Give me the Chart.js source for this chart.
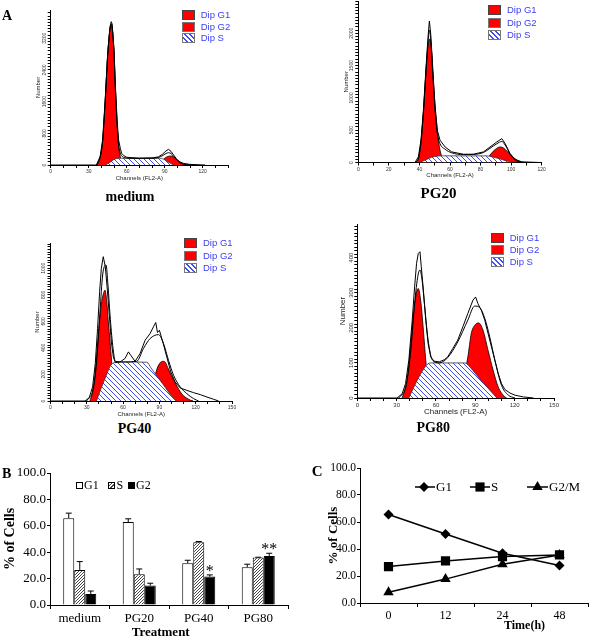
<!DOCTYPE html>
<html>
<head>
<meta charset="utf-8">
<title>Cell cycle distribution</title>
<script src="https://cdn.jsdelivr.net/npm/chart.js@4.4.1/dist/chart.umd.min.js"></script>
<style>
  body { margin: 0; background: #fff; }
  #fig { position: relative; width: 600px; height: 638px; overflow: hidden; background: #fff; }
  #fig canvas { position: absolute; }
  .t { position: absolute; white-space: nowrap; color: #000; }
  .sw { position: absolute; box-sizing: border-box; }
</style>
</head>
<body>
<div id="fig">
  <canvas id="hMedium" width="300" height="210" style="left:0;top:0"></canvas>
  <canvas id="hPG20" width="300" height="210" style="left:300px;top:0"></canvas>
  <canvas id="hPG40" width="300" height="210" style="left:0;top:210px"></canvas>
  <canvas id="hPG80" width="300" height="210" style="left:300px;top:210px"></canvas>
  <canvas id="barChart" width="300" height="198" style="left:0;top:440px"></canvas>
  <canvas id="lineChart" width="300" height="198" style="left:300px;top:440px"></canvas>
</div>
<script>
const serif = '"Liberation Serif", "Times New Roman", serif';
const sans = '"Liberation Sans", Arial, sans-serif';

// ---- panel A : DNA histograms, [channel, count] ----
const mediumRaw = [[0,0],[36,0],[39,210],[41,630],[43,1640],[45,2820],[46.8,3490],[47.8,3620],[48.5,3560],[50,2900],[51,2060],[52.5,1100],[53.6,630],[55,420],[56,295],[58,230],[60,195],[70,172],[80,178],[85,205],[88,265],[91,355],[93,395],[95,345],[97,255],[99.7,140],[102,80],[105,40],[110,15],[122,0]];
const mediumFit = [[36.5,0],[39,190],[41,600],[43,1600],[45,2780],[46.8,3440],[47.8,3560],[48.5,3500],[50,2850],[51,2000],[52.5,1000],[53.6,520],[55,300],[56,230],[58,190],[60,175],[70,168],[80,172],[85,190],[88,230],[91,290],[93,310],[95,290],[97,220],[99.7,120],[102,60],[105,25],[110,5],[115,0]];
const mediumG1 = [[36.5,0],[39,190],[41,600],[43,1600],[45,2780],[46.8,3420],[47.8,3540],[48.5,3470],[50,2820],[51,1980],[52.5,980],[53.6,480],[55,200],[56.5,40],[58,0]];
const mediumS = [[43,0],[46,50],[49,120],[52,165],[56,170],[70,168],[86,168],[89,150],[92,90],[95,35],[97,0]];
const mediumG2 = [[85,0],[88,90],[90,170],[92,210],[94.5,228],[97,200],[100,120],[103,50],[106,10],[108,0]];

const pg20Raw = [[0,0],[37.1,0],[39.3,87],[41,344],[42.6,805],[44.3,1472],[45.6,1934],[46.5,2190],[47.4,1985],[48.7,1472],[50.2,857],[51.7,498],[53.5,344],[56.8,241],[61.1,164],[68.8,128],[75.3,128],[81.9,164],[86.2,241],[90.6,318],[93.9,369],[96.1,292],[99.3,139],[102.6,46],[107,10],[119,0]];
const pg20Fit = [[37.5,0],[39.5,80],[41,320],[42.6,780],[44.3,1420],[45.6,1850],[46.5,2050],[47.4,1900],[48.7,1400],[50.2,820],[51.7,450],[53.5,290],[56.8,205],[61.1,150],[68.8,122],[75.3,125],[81.9,155],[86.2,220],[90.6,290],[93.9,325],[96.1,270],[99.3,130],[102.6,40],[106,5],[110,0]];
const pg20G1 = [[37.5,0],[39.5,70],[41,300],[42.6,760],[44.3,1400],[45.6,1800],[46.9,1910],[48,1700],[48.7,1400],[50.2,900],[51.7,500],[53,250],[54.5,100],[56,30],[58,0]];
const pg20S = [[40,0],[44,40],[48,80],[52,100],[56,103],[84,103],[88,85],[92,60],[96,30],[100,8],[101.5,0]];
const pg20G2 = [[83,0],[85,80],[87,140],[89.5,200],[92.8,241],[95,225],[97.5,170],[100,110],[103,50],[106,12],[108,0]];

const pg40Raw = [[0,0],[28.5,0],[32,25],[34.8,106],[37,282],[38.9,546],[40.6,823],[42,999],[43.6,1087],[45.3,1011],[47,835],[48.6,647],[50.3,445],[51.9,332],[53.6,289],[57.5,294],[61.6,320],[64.4,370],[66.3,345],[69.9,299],[74,357],[78.2,458],[82.3,508],[85.1,559],[87,591],[88.4,516],[90,533],[92.8,445],[96.1,332],[99.4,219],[103,143],[107.2,98],[112.7,80],[118.2,63],[123.8,48],[129.3,30],[134.8,13],[138.9,0]];
const pg40Fit = [[29.8,0],[35.4,93],[38.1,294],[40.9,672],[43.1,949],[45.9,1024],[47.5,873],[49.2,647],[51.4,420],[53.6,299],[60.2,294],[71.3,299],[76.8,395],[82.3,470],[89.2,500],[93.4,433],[97.5,307],[101.7,194],[107.2,106],[112.7,55],[118.2,18],[122.4,0]];
const pg40G1 = [[32.6,0],[34.5,60],[36.7,194],[39.5,496],[42.3,747],[44.2,822],[45,835],[46.5,750],[47.8,596],[49.2,450],[50.6,294],[52,170],[54,60],[57,0]];
const pg40S = [[38,0],[42,100],[46,190],[49.5,265],[53,290],[57,294],[79.6,292],[83,250],[87,200],[91,150],[95,100],[99,50],[104,0]];
const pg40G2 = [[78,0],[82,60],[86,180],[89,265],[92.8,299],[95,290],[97,250],[100,190],[104,120],[108,60],[112,25],[116,5],[118,0]];

const pg80Raw = [[0,0],[30.3,0],[34.2,12],[36.8,41],[39.3,108],[41.9,222],[43.7,317],[45.2,384],[46.5,412],[47.8,417],[48.8,374],[50.4,307],[52.2,222],[54,155],[56,117],[58.6,105],[62.5,103],[66.3,109],[68.9,117],[72.8,141],[76.6,165],[80.5,203],[84.3,241],[88.2,279],[90.2,288],[92,269],[94.6,250],[97.2,222],[99.7,184],[102.3,146],[104.9,108],[107.5,69],[110,41],[112.6,24],[116.5,14],[120.3,8],[126.7,3],[134.4,0]];
const pg80Fit = [[31.6,0],[36.8,31],[40.6,127],[43.7,269],[46.3,350],[47.8,365],[49.4,336],[51.4,260],[54,165],[57.3,108],[62.5,100],[68.9,115],[76.6,160],[84.3,222],[89.5,262],[93.3,258],[97.2,227],[101,174],[104.9,108],[110,36],[115.2,8],[120.3,0]];
const pg80G1 = [[34.2,0],[38,50],[40.6,146],[43.2,250],[45.2,303],[46.5,312],[48.3,279],[50.4,193],[52.2,108],[54,41],[56,0]];
const pg80S = [[39.3,0],[43,30],[47,60],[51,85],[54,98],[56,100],[82,100],[86,88],[90,70],[95,48],[100,27],[104,10],[106.5,0]];
const pg80G2 = [[75,0],[80,40],[84.3,117],[86.9,184],[89.5,207],[92.5,214],[95.9,193],[99.7,136],[103.6,79],[107.5,31],[112.6,3],[114,0]];

// ---- panel B : % of cells per treatment ----
const treatments = ['medium', 'PG20', 'PG40', 'PG80'];
const g1Pct = [65.8, 62.8, 31.6, 28.6];
const g1Err = [3.8, 2.5, 2.3, 2.3];
const sPct = [26.6, 23.3, 47.6, 35.9];
const sErr = [6.3, 4.0, 0.5, 0.3];
const g2Pct = [8.4, 14.7, 21.5, 37.2];
const g2Err = [2.2, 1.8, 1.3, 2.0];
const g2Marks = ['', '', '*', '**'];

// ---- panel C : time course ----
const hours = ['0', '12', '24', '48'];
const g1Time = [65.6, 51.1, 36.9, 27.8];
const sTime = [27.0, 31.2, 34.4, 35.6];
const g2mTime = [7.9, 17.7, 28.7, 35.5];

const fig = document.getElementById('fig');

function hatch(color, dir, n, lw) {
  const c = document.createElement('canvas');
  c.width = n; c.height = n;
  const g = c.getContext('2d');
  g.fillStyle = '#fff';
  g.fillRect(0, 0, n, n);
  g.strokeStyle = color;
  g.lineWidth = lw;
  g.beginPath();
  if (dir === 'back') {
    g.moveTo(0, 0); g.lineTo(n, n);
    g.moveTo(-1, n - 1); g.lineTo(1, n + 1);
    g.moveTo(n - 1, -1); g.lineTo(n + 1, 1);
  } else {
    g.moveTo(0, n); g.lineTo(n, 0);
    g.moveTo(-1, 1); g.lineTo(1, -1);
    g.moveTo(n - 1, n + 1); g.lineTo(n + 1, n - 1);
  }
  g.stroke();
  return g.createPattern(c, 'repeat');
}

function addText(txt, x, base, size, bold, center, color, family) {
  const d = document.createElement('div');
  d.className = 't';
  d.textContent = txt;
  const fam = family || serif;
  d.style.font = (bold ? 'bold ' : '') + size + 'px/1 ' + fam;
  const k = fam === sans ? 0.8465 : 0.8375;
  d.style.top = (base - k * size) + 'px';
  d.style.left = x + 'px';
  if (center) d.style.transform = 'translateX(-50%)';
  if (color) d.style.color = color;
  fig.appendChild(d);
}

function addSwatch(x, y, w, h, bg, border) {
  const d = document.createElement('div');
  d.className = 'sw';
  d.style.left = x + 'px'; d.style.top = y + 'px';
  d.style.width = w + 'px'; d.style.height = h + 'px';
  d.style.background = bg;
  d.style.border = border;
  fig.appendChild(d);
}

function histLegend(x, y, rowGap) {
  const names = ['Dip G1', 'Dip G2', 'Dip S'];
  names.forEach((n, i) => {
    const top = y + i * rowGap;
    const bg = i < 2 ? '#ff0000' : 'repeating-linear-gradient(45deg, #fff 0 2.5px, #3d4ef0 2.5px 3.6px)';
    addSwatch(x, top, 13, 10, bg, i === 0 ? '1.5px solid #444' : '1.5px solid #777');
    addText(n, x + 19, top + 8.5, 9.5, false, false, '#3c3cf5', sans);
  });
}

function steps(max, step) {
  const t = [];
  for (let v = 0; v <= max + 1e-9; v += step) t.push({ value: Math.round(v * 1000) / 1000 });
  return t;
}

function histogram(id, p) {
  const el = document.getElementById(id);
  const blue = hatch('#3d4ef0', 'back', 5, 1);
  const line = (data, extra) => Object.assign({ data: data, pointRadius: 0, borderJoinStyle: 'round' }, extra);
  new Chart(el, {
    type: 'line',
    data: {
      datasets: [
        line(p.raw, { borderColor: '#000', borderWidth: 1, fill: false }),
        line(p.fit, { borderColor: '#000', borderWidth: 1, fill: false, cubicInterpolationMode: 'monotone' }),
        line(p.s, { borderColor: '#333', borderWidth: 0.8, backgroundColor: blue, fill: 'origin', cubicInterpolationMode: 'monotone' }),
        line(p.g1, { borderColor: '#000', borderWidth: 0.8, backgroundColor: '#ff0000', fill: 'origin', cubicInterpolationMode: 'monotone' }),
        line(p.g2, { borderColor: '#000', borderWidth: 0.8, backgroundColor: '#ff0000', fill: 'origin', cubicInterpolationMode: 'monotone' })
      ]
    },
    options: {
      responsive: false,
      animation: false,
      events: [],
      layout: { padding: { left: p.padLeft, right: 300 - p.area.right, top: p.area.top, bottom: p.padBottom } },
      plugins: { legend: { display: false }, tooltip: { enabled: false } },
      scales: {
        x: {
          type: 'linear', min: 0, max: p.xMax,
          afterBuildTicks: s => { s.ticks = steps(p.xMax, p.xMinor); },
          afterFit: s => { s.height = 210 - p.area.bottom - p.padBottom; },
          ticks: {
            autoSkip: false, maxRotation: 0, padding: 1, color: '#333',
            font: { family: sans, size: p.tickSize },
            callback: v => (v % p.xMajor === 0 && v <= p.xLabelMax) ? String(v) : ''
          },
          grid: { drawOnChartArea: false, tickLength: 3, color: '#000' },
          border: { color: '#000', width: 1 },
          title: { display: true, text: 'Channels (FL2-A)', color: '#222', padding: 0, font: { family: sans, size: p.titleSize } }
        },
        y: {
          min: 0, max: p.yMax,
          afterBuildTicks: s => { s.ticks = steps(p.yMax, p.yMinor); },
          afterFit: s => { s.width = p.area.left - p.padLeft; },
          ticks: {
            autoSkip: false, minRotation: 90, maxRotation: 90, crossAlign: 'center', padding: -2, color: '#333',
            font: { family: sans, size: p.tickSize },
            callback: v => (v % p.yMajor === 0 && v <= p.yLabelMax) ? String(v) : ''
          },
          grid: { drawOnChartArea: false, tickLength: 3, color: '#000' },
          border: { color: '#000', width: 1 },
          title: { display: true, text: 'Number', color: '#222', padding: 0, font: { family: sans, size: p.titleSize } }
        }
      }
    }
  });
}

histogram('hMedium', {
  raw: mediumRaw, fit: mediumFit, g1: mediumG1, g2: mediumG2, s: mediumS,
  xMax: 140, xMinor: 10, xMajor: 30, xLabelMax: 120,
  yMax: 3915, yMinor: 80, yMajor: 800, yLabelMax: 3200,
  area: { left: 50.7, right: 228, top: 10, bottom: 165 },
  padLeft: 35, padBottom: 28, tickSize: 5, titleSize: 6
});
histogram('hPG20', {
  raw: pg20Raw, fit: pg20Fit, g1: pg20G1, g2: pg20G2, s: pg20S,
  xMax: 120, xMinor: 10, xMajor: 20, xLabelMax: 120,
  yMax: 2500, yMinor: 50, yMajor: 500, yLabelMax: 2000,
  area: { left: 58.3, right: 241.7, top: 1, bottom: 162.5 },
  padLeft: 42.4, padBottom: 30.7, tickSize: 5, titleSize: 6
});
histogram('hPG40', {
  raw: pg40Raw, fit: pg40Fit, g1: pg40G1, g2: pg40G2, s: pg40S,
  xMax: 150, xMinor: 10, xMajor: 30, xLabelMax: 150,
  yMax: 1190, yMinor: 20, yMajor: 200, yLabelMax: 1000,
  area: { left: 50.5, right: 232, top: 33, bottom: 191 },
  padLeft: 34, padBottom: 2.4, tickSize: 5, titleSize: 6
});
histogram('hPG80', {
  raw: pg80Raw, fit: pg80Fit, g1: pg80G1, g2: pg80G2, s: pg80S,
  xMax: 150, xMinor: 10, xMajor: 30, xLabelMax: 150,
  yMax: 496, yMinor: 10, yMajor: 100, yLabelMax: 400,
  area: { left: 57.3, right: 254, top: 14, bottom: 188 },
  padLeft: 38.3, padBottom: 3.2, tickSize: 6, titleSize: 8
});

histLegend(181.7, 10, 11.5);
histLegend(488, 5, 12.5);
histLegend(184, 238, 12.5);
histLegend(490.7, 232.7, 12);

addText('A', 2, 20.7, 14, true);
addText('medium', 130, 202, 14, true, true);
addText('PG20', 438.5, 198.3, 15, true, true);
addText('PG40', 134.5, 434, 14, true, true);
addText('PG80', 433.3, 432.7, 14, true, true);

// ---- panel B ----
const errorBars = {
  id: 'errorBars',
  afterDatasetsDraw(chart) {
    const { ctx } = chart;
    const y = chart.scales.y;
    ctx.save();
    ctx.strokeStyle = '#000';
    ctx.fillStyle = '#000';
    ctx.lineWidth = 1;
    chart.data.datasets.forEach((ds, i) => {
      chart.getDatasetMeta(i).data.forEach((bar, j) => {
        const top = y.getPixelForValue(ds.data[j] + ds.errors[j]);
        ctx.beginPath();
        ctx.moveTo(bar.x, bar.y);
        ctx.lineTo(bar.x, top);
        ctx.moveTo(bar.x - 3, top);
        ctx.lineTo(bar.x + 3, top);
        ctx.stroke();
        if (ds.marks && ds.marks[j]) {
          ctx.font = '16px ' + serif;
          ctx.textAlign = 'center';
          ctx.textBaseline = 'alphabetic';
          ctx.fillText(ds.marks[j], bar.x, top + 1);
        }
      });
    });
    ctx.restore();
  }
};

const barCanvas = document.getElementById('barChart');
new Chart(barCanvas, {
  type: 'bar',
  data: {
    labels: treatments,
    datasets: [
      { label: 'G1', data: g1Pct, errors: g1Err, backgroundColor: '#fff', borderColor: '#000', borderWidth: 1 },
      { label: 'S', data: sPct, errors: sErr, backgroundColor: hatch('#444', 'fwd', 3, 1), borderColor: '#000', borderWidth: 1 },
      { label: 'G2', data: g2Pct, errors: g2Err, marks: g2Marks, backgroundColor: '#000', borderColor: '#000', borderWidth: 1 }
    ]
  },
  options: {
    responsive: false,
    animation: false,
    events: [],
    categoryPercentage: 0.555,
    barPercentage: 1,
    layout: { padding: { left: 0, right: 12, top: 33, bottom: 11 } },
    plugins: { legend: { display: false }, tooltip: { enabled: false } },
    scales: {
      x: {
        grid: { drawOnChartArea: false, offset: true, tickLength: 4, color: '#000' },
        border: { color: '#000', width: 1 },
        ticks: { color: '#000', padding: 2, maxRotation: 0, font: { family: serif, size: 13 } },
        afterFit: s => { s.height = 22; }
      },
      y: {
        min: 0, max: 100,
        ticks: { stepSize: 20, color: '#000', padding: 1, font: { family: serif, size: 13 }, callback: v => v.toFixed(1) },
        grid: { drawOnChartArea: false, tickLength: 3, color: '#000' },
        border: { color: '#000', width: 1 },
        title: { display: true, text: '% of Cells', color: '#000', padding: { top: 2, bottom: 0 }, font: { family: serif, size: 14, weight: 'bold' } },
        afterFit: s => { s.width = 50; }
      }
    }
  },
  plugins: [errorBars]
});

addText('B', 2, 478.3, 14, true);
addSwatch(76, 481.5, 7, 7, '#fff', '1px solid #000');
addText('G1', 84, 489, 12);
addSwatch(108, 481.5, 7, 7, 'repeating-linear-gradient(135deg, #fff 0 1.5px, #444 1.5px 2.5px)', '1px solid #000');
addText('S', 116.5, 489, 12);
addSwatch(128, 481.5, 7, 7, '#000', '1px solid #000');
addText('G2', 136, 489, 12);
addText('Treatment', 160.7, 636, 13, true, true);

// ---- panel C ----
function marker(ctx, style, x, y, r) {
  ctx.beginPath();
  if (style === 'rectRot') {
    ctx.moveTo(x, y - r); ctx.lineTo(x + r, y); ctx.lineTo(x, y + r); ctx.lineTo(x - r, y);
  } else if (style === 'rect') {
    const h = r * Math.SQRT1_2;
    ctx.rect(x - h, y - h, 2 * h, 2 * h);
  } else {
    ctx.moveTo(x, y - r); ctx.lineTo(x + r * 0.866, y + r / 2); ctx.lineTo(x - r * 0.866, y + r / 2);
  }
  ctx.closePath();
  ctx.fill();
}

const timeLegend = {
  id: 'timeLegend',
  afterDraw(chart) {
    const ctx = chart.ctx;
    const spots = [[115, 124, 135], [170, 180, 190], [227, 237.5, 248]];
    ctx.save();
    ctx.strokeStyle = '#000';
    ctx.fillStyle = '#000';
    ctx.lineWidth = 1.5;
    ctx.font = '13px ' + serif;
    ctx.textBaseline = 'middle';
    chart.data.datasets.forEach((ds, i) => {
      const [a, m, b] = spots[i];
      const y = 47;
      ctx.beginPath();
      ctx.moveTo(a, y); ctx.lineTo(b, y);
      ctx.stroke();
      marker(ctx, ds.pointStyle, m, y, ds.pointRadius);
      ctx.fillText(ds.label, b + 1, y + 1);
    });
    ctx.restore();
  }
};

const lineCanvas = document.getElementById('lineChart');
const series = (label, data, style, r) => ({
  label: label, data: data, pointStyle: style, pointRadius: r,
  borderColor: '#000', borderWidth: 1.5, backgroundColor: '#000',
  pointBackgroundColor: '#000', pointBorderColor: '#000', pointBorderWidth: 0, tension: 0
});
new Chart(lineCanvas, {
  type: 'line',
  data: {
    labels: hours,
    datasets: [
      series('G1', g1Time, 'rectRot', 5),
      series('S', sTime, 'rect', 6.5),
      series('G2/M', g2mTime, 'triangle', 6)
    ]
  },
  options: {
    responsive: false,
    animation: false,
    events: [],
    layout: { padding: { left: 26, right: 12, top: 28, bottom: 13 } },
    plugins: { legend: { display: false }, tooltip: { enabled: false } },
    scales: {
      x: {
        offset: true,
        grid: { drawOnChartArea: false, offset: true, tickLength: 4, color: '#000' },
        border: { color: '#000', width: 1 },
        ticks: { color: '#000', padding: 2, maxRotation: 0, font: { family: serif, size: 12 } },
        afterFit: s => { s.height = 22; }
      },
      y: {
        min: 0, max: 100,
        ticks: { stepSize: 20, color: '#000', padding: 1, font: { family: serif, size: 11.5 }, callback: v => v.toFixed(1) },
        grid: { drawOnChartArea: false, tickLength: 3, color: '#000' },
        border: { color: '#000', width: 1 },
        title: { display: true, text: '% of Cells', color: '#000', padding: 0, font: { family: serif, size: 13, weight: 'bold' } },
        afterFit: s => { s.width = 34; }
      }
    }
  },
  plugins: [timeLegend]
});

addText('C', 311.7, 476.7, 15, true);
addText('Time(h)', 524.5, 629, 12, true, true);
</script>
</body>
</html>
